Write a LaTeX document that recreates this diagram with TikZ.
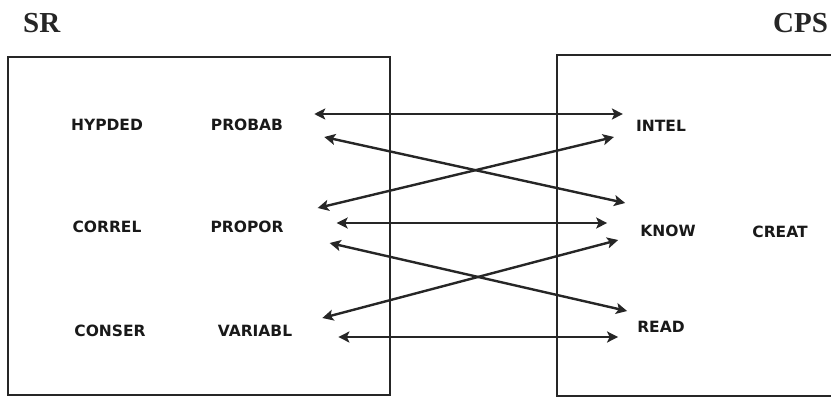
\documentclass[tikz,border=0pt]{standalone}
\usepackage{fontspec}
\setmainfont{Liberation Serif}
\newfontfamily\labelfont{DejaVu Sans}
\usetikzlibrary{arrows.meta}

\begin{document}
\begin{tikzpicture}[x=1pt, y=-1pt,
        boxstyle/.style={draw=black!85, line width=2.8pt},
        titlestyle/.style={inner sep=0pt, text=black!85, font=\bfseries\fontsize{29}{31}\selectfont},
        labelstyle/.style={inner sep=0pt, text=black!90, font=\labelfont\bfseries\fontsize{15.5}{17}\selectfont},
        linkstyle/.style={draw=black!85, line width=2.4pt, {Stealth[length=11pt,width=11pt,inset=2.5pt]}-{Stealth[length=11pt,width=11pt,inset=2.5pt]}}]
            \useasboundingbox (0,0) rectangle (831,397);
            \clip (0,0) rectangle (831,397);

            \draw[boxstyle] (8,57) rectangle (390,395);
            \draw[boxstyle] (557,55) rectangle (850,396);

            \node[titlestyle, anchor=base west] (sr) at (23,32) {SR};
            \node[titlestyle, anchor=base west] (cps) at (773,32) {CPS};

            \foreach \name/\txt/\x/\y in {hypded/HYPDED/107/125, probab/PROBAB/247/125,
                    correl/CORREL/107/227, propor/PROPOR/247/227,
                    conser/CONSER/110/331, variabl/VARIABL/255/331,
                    intel/INTEL/661/126, know/KNOW/668/231,
                    creat/CREAT/780/232, read/READ/661/327}{
                    \node[labelstyle] (\name) at (\x, \y) {\txt};
                }

            \foreach \a/\sa/\b/\sb in {probab/{31,-11}/intel/{-13,-12},
                    probab/{41,12}/know/{-15,-28},
                    propor/{34,-19}/intel/{-22,11},
                    propor/{53,-4}/know/{-33,-8},
                    propor/{46,16}/read/{-10,-16},
                    variabl/{30,-13}/know/{-22,9},
                    variabl/{46,6}/read/{-19,10}}{
                    \draw[linkstyle] ([shift={(\sa)}]\a.east) -- ([shift={(\sb)}]\b.west);
                }
        \end{tikzpicture}
\end{document}
